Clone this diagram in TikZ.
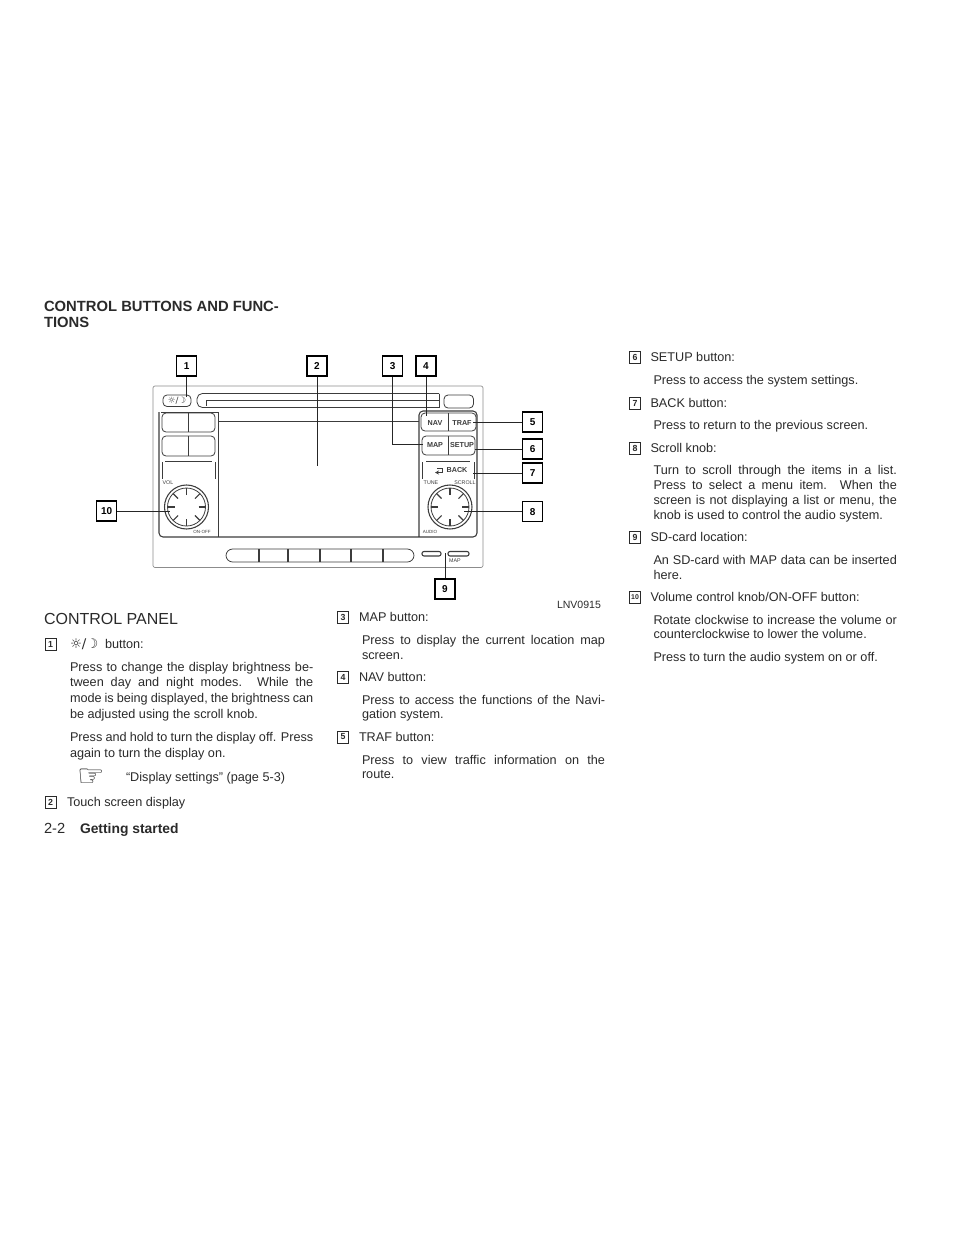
\documentclass[tikz,border=0pt]{standalone}
\usepackage{fontspec}
\usetikzlibrary{arrows.meta}
\setmainfont{Liberation Sans}
\newfontfamily\symf{DejaVu Sans}
\definecolor{ink}{HTML}{2A2A2A}
\definecolor{lin}{HTML}{3C3C3C}
\newcounter{tlc}
\newcommand\tl[3]{\stepcounter{tlc}\node[txt] (t\thetlc) at (#1,#2) {#3};}
\newcommand\jl[4]{\stepcounter{tlc}\node[txt] (t\thetlc) at (#1,#2) {\makebox[#3pt][s]{#4}};}
\newcommand\nb[3]{\stepcounter{tlc}\node[numbox] (n\thetlc) at (#1,#2) {#3};}
\tikzset{
 txt/.style={anchor=base west,inner sep=0pt,outer sep=0pt,text=ink,font=\fontsize{9.5pt}{11pt}\selectfont},
 numbox/.style={draw=ink,line width=0.55pt,minimum width=8.4pt,minimum height=9pt,inner sep=0pt,font=\bfseries\fontsize{6.6pt}{7pt}\selectfont,text=ink},
 callout/.style={draw=black,line width=1.1pt,fill=white,minimum width=15pt,minimum height=15pt,inner sep=0pt,font=\bfseries\fontsize{7.5pt}{8pt}\selectfont},
 leader/.style={draw=black!85,line width=0.6pt},
 pl/.style={draw=lin,line width=0.6pt},
 pt/.style={inner sep=0pt,outer sep=0pt,text=lin,font=\bfseries\fontsize{5.4pt}{6pt}\selectfont},
 ps/.style={inner sep=0pt,outer sep=0pt,text=lin,font=\fontsize{3.4pt}{4pt}\selectfont},
}
\begin{document}
\begin{tikzpicture}[x=0.75pt,y=-0.75pt]
\useasboundingbox (0,0) rectangle (954,1235);
% radio panel
\draw[draw=black!45,line width=0.5pt,rounded corners=1.5pt] (153,386) rectangle (483,567.5);
\draw[pl,rounded corners=3pt] (163,395) rectangle (191,406.5);
\node[pt,font=\symf\fontsize{6.5pt}{7pt}\selectfont] (lsun) at (177,401) {☼/☽};
\draw[pl,rounded corners=4pt] (439,393.5) -- (197,393.5) -- (197,407.5) -- (439,407.5);
\draw[pl] (439,400) -- (206,400) -- (206,406);
\draw[pl,rounded corners=3pt] (439,393.5) -- (439,407.5);
\draw[pl,rounded corners=3pt] (444,395) rectangle (473.5,408);
\draw[pl] (218,421) -- (419,421);
\draw[draw=lin,line width=0.8pt,rounded corners=3pt] (159,412) -- (159,537) -- (477,537) -- (477,411) -- (419,411) -- (419,537);
\draw[pl,rounded corners=3pt] (218,412) -- (161,412);
\draw[pl] (218,412) -- (218,537);
% left buttons
\draw[pl,rounded corners=3pt] (162,413) rectangle (215,432);
\draw[pl] (188.5,413) -- (188.5,432);
\draw[pl,rounded corners=3pt] (162,436) rectangle (215,456);
\draw[pl] (188.5,436) -- (188.5,456);
\draw[pl] (162.5,462) -- (162.5,479) (215,462) -- (215,479) (165,461) -- (212,461);
\node[ps,font=\fontsize{4pt}{4pt}\selectfont] (lvol) at (168,483) {VOL};
\node[ps] (lonoff) at (202,532) {ON·OFF};
% right buttons
\draw[pl,rounded corners=3pt] (421,413) rectangle (476,431);
\draw[pl] (448.7,413) -- (448.7,431);
\draw[pl,rounded corners=3pt] (422,436) rectangle (475,455);
\draw[pl] (448.7,436) -- (448.7,455);
\draw[pl] (422.5,462) -- (422.5,479) (474,462) -- (474,479) (426,461) -- (470,461);
\node[pt] (bnav) at (435,423) {NAV};
\node[pt] (btraf) at (462,423) {TRAF};
\node[pt] (bmap) at (435,445) {MAP};
\node[pt] (bsetup) at (462,445) {SETUP};
\node[pt] (bback) at (457,470) {BACK};
\draw[draw=lin,line width=0.7pt,-{Stealth[length=3pt,width=3pt]}] (442,468) -- (442,472.5) -- (435,472.5);
\draw[draw=lin,line width=0.6pt] (442,468) -- (437,468);
\node[ps,font=\fontsize{4pt}{4pt}\selectfont] (ltune) at (431,483) {TUNE};
\node[ps,font=\fontsize{4pt}{4pt}\selectfont] (lscroll) at (465,483) {SCROLL};
\node[ps] (laudio) at (430,532) {AUDIO};
% knobs
\foreach \cx in {186.5,450}{
 \draw[draw=lin,line width=0.8pt] (\cx,507) circle (22);
 \draw[pl] (\cx,507) circle (19);
 \foreach \a in {0,45,...,315}{
  \draw[pl,line width=0.8pt] (\cx,507) ++(\a:12) -- ++(\a:7);
 }
}
% bottom buttons
\draw[pl,rounded corners=5pt] (226,549) rectangle (414,562);
\foreach \dx in {258,287,319,350,382}{
 \draw[pl] (\dx,549) -- (\dx,562);
 \draw[pl] (\dx+1.5,549) -- (\dx+1.5,562);
}
% sd slots
\draw[pl,rounded corners=1.5pt,line width=0.8pt] (422,551.5) rectangle (441,556);
\draw[pl,rounded corners=1.5pt,line width=0.8pt] (448,551.5) rectangle (469,556);
\node[ps,font=\fontsize{4pt}{4pt}\selectfont] (lmap) at (455,560.5) {MAP};
% callouts
\node[callout] (c1) at (186.7,366) {1};
\node[callout] (c2) at (317,366) {2};
\node[callout] (c3) at (392.7,366) {3};
\node[callout] (c4) at (426,366) {4};
\node[callout] (c5) at (532.7,422) {5};
\node[callout] (c6) at (532.7,449) {6};
\node[callout] (c7) at (532.7,473) {7};
\node[callout] (c8) at (532.7,511.7) {8};
\node[callout] (c9) at (445,589) {9};
\node[callout] (c10) at (106.7,511) {10};
\coordinate (e1) at (186.7,397);
\coordinate (e2) at (317,466);
\coordinate (e3) at (423,444);
\coordinate (e4) at (426,416);
\coordinate (e5) at (473,422);
\coordinate (e6) at (475,449);
\coordinate (e7) at (473,473);
\coordinate (e8) at (464,511.7);
\coordinate (e9) at (445,553);
\coordinate (e10) at (170,511);
\draw[leader] (c1) -- (e1);
\draw[leader] (c2) -- (e2);
\draw[leader] (c3) |- (e3);
\draw[leader] (c4) -- (e4);
\draw[leader] (c5) -- (e5);
\draw[leader] (c6) -- (e6);
\draw[leader] (c7) -- (e7);
\draw[leader] (c8) -- (e8);
\draw[leader] (c9) -- (e9);
\draw[leader] (c10) -- (e10);
% heading
\node[txt,font=\bfseries\fontsize{11.1pt}{12pt}\selectfont] (h1) at (44,311) {CONTROL BUTTONS AND FUNC-};
\node[txt,font=\bfseries\fontsize{11.1pt}{12pt}\selectfont] (h2) at (44,327) {TIONS};
\node[txt,font=\fontsize{7.9pt}{9pt}\selectfont] (lnv) at (557,608) {LNV0915};
\node[txt,font=\fontsize{12pt}{13pt}\selectfont] (cp) at (44,624) {CONTROL PANEL};
% left column
\nb{50.5}{644}{1}
\node[txt,font=\symf\fontsize{10pt}{11pt}\selectfont] (isun) at (70,648) {☼/☽};
\tl{105}{648.5}{button:}
\jl{70}{671}{182.5}{Press to change the display brightness be-}
\jl{70}{686.5}{182.5}{tween day and night modes. While the}
\jl{70}{702}{182.5}{mode is being displayed, the brightness can}
\tl{70}{718}{be adjusted using the scroll knob.}
\jl{70}{741}{182.5}{Press and hold to turn the display off. Press}
\tl{70}{757}{again to turn the display on.}
\node[txt,font=\symf\fontsize{23pt}{23pt}\selectfont] (ihand) at (77,786) {☞};
\tl{126}{781}{“Display settings” (page 5-3)}
\nb{50.5}{802}{2}
\tl{67}{806}{Touch screen display}
\node[txt,font=\fontsize{11pt}{12pt}\selectfont] (pg) at (44,833) {2-2};
\node[txt,font=\bfseries\fontsize{10.4pt}{12pt}\selectfont] (gs) at (80,833) {Getting started};
% middle column
\nb{343}{617}{3}
\tl{359}{621}{MAP button:}
\jl{362}{644.5}{182.3}{Press to display the current location map}
\tl{362}{659}{screen.}
\nb{343}{677}{4}
\tl{359}{681}{NAV button:}
\jl{362}{704.5}{182.3}{Press to access the functions of the Navi-}
\tl{362}{718.5}{gation system.}
\nb{343}{737}{5}
\tl{359}{741}{TRAF button:}
\jl{362}{764.5}{182.3}{Press to view traffic information on the}
\tl{362}{778.5}{route.}
% right column
\nb{635}{357}{6}
\tl{650.5}{361.5}{SETUP button:}
\tl{653.5}{384.5}{Press to access the system settings.}
\nb{635}{403}{7}
\tl{650.5}{407}{BACK button:}
\tl{653.5}{429.5}{Press to return to the previous screen.}
\nb{635}{448}{8}
\tl{650.5}{452}{Scroll knob:}
\jl{653.5}{474.5}{182.5}{Turn to scroll through the items in a list.}
\jl{653.5}{489.5}{182.5}{Press to select a menu item. When the}
\jl{653.5}{504.5}{182.5}{screen is not displaying a list or menu, the}
\tl{653.5}{519.5}{knob is used to control the audio system.}
\nb{635}{537}{9}
\tl{650.5}{541}{SD-card location:}
\jl{653.5}{564.5}{182.5}{An SD-card with MAP data can be inserted}
\tl{653.5}{579.5}{here.}
\nb{635}{597}{\fontsize{5.2pt}{6pt}\selectfont 10}
\tl{650.5}{601}{Volume control knob/ON-OFF button:}
\jl{653.5}{624}{182.5}{Rotate clockwise to increase the volume or}
\tl{653.5}{638.5}{counterclockwise to lower the volume.}
\tl{653.5}{661.5}{Press to turn the audio system on or off.}
\end{tikzpicture}
\end{document}
